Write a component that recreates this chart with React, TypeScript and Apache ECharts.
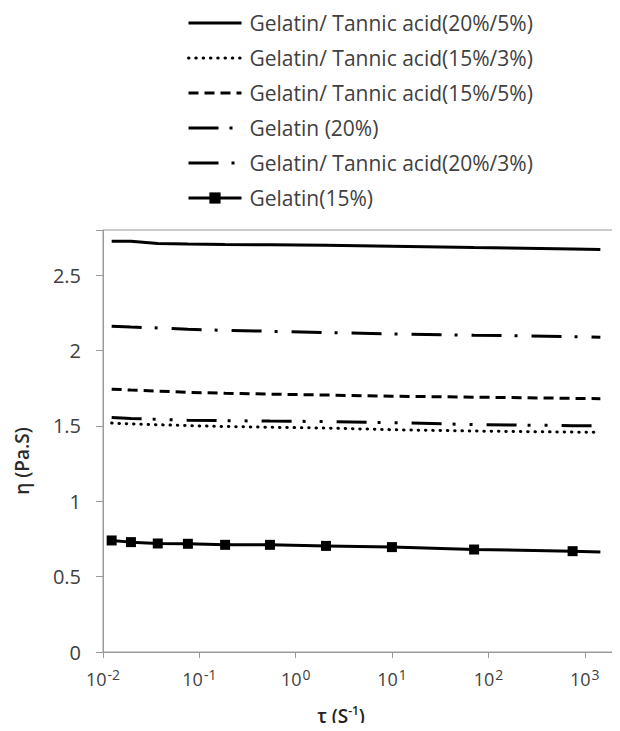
import React, { useEffect, useRef } from "react";
import * as echarts from "echarts";

const shearRates = [0.0123, 0.0195, 0.037, 0.076, 0.185, 0.54, 2.06, 9.96, 71, 747, 1450];

const gtA20_5 = [2.726, 2.725, 2.711, 2.707, 2.704, 2.702, 2.699, 2.693, 2.684, 2.674, 2.671];
const gtA15_3 = [1.519, 1.513, 1.508, 1.502, 1.496, 1.491, 1.486, 1.475, 1.466, 1.459, 1.457];
const gtA15_5 = [1.744, 1.738, 1.731, 1.723, 1.717, 1.711, 1.705, 1.697, 1.691, 1.683, 1.681];
const gel20 = [1.556, 1.55, 1.544, 1.538, 1.535, 1.532, 1.529, 1.522, 1.509, 1.502, 1.5];
const gtA20_3 = [2.161, 2.156, 2.15, 2.141, 2.134, 2.128, 2.12, 2.111, 2.102, 2.092, 2.089];
const gel15 = [0.74, 0.729, 0.72, 0.718, 0.711, 0.711, 0.704, 0.696, 0.68, 0.669, 0.664];

const seriesNames = [
  "Gelatin/ Tannic acid(20%/5%)",
  "Gelatin/ Tannic acid(15%/3%)",
  "Gelatin/ Tannic acid(15%/5%)",
  "Gelatin (20%)",
  "Gelatin/ Tannic acid(20%/3%)",
  "Gelatin(15%)",
];

const yTicks = [0, 0.5, 1, 1.5, 2, 2.5];
const FONT = "'Open Sans', sans-serif";
const TXT = "#404040";

function pairs(vals: number[]) {
  return shearRates.map((x, i) => [x, vals[i]]);
}

export default function App() {
  const ref = useRef<HTMLDivElement>(null);
  useEffect(() => {
    if (!ref.current) return;
    const chart = echarts.init(ref.current, undefined, { renderer: "svg" });
    const base = {
      type: "line" as const,
      showSymbol: false,
      symbol: "none",
      smooth: false,
    };
    const gel15Data: any[] = pairs(gel15).map((p, i) =>
      i === shearRates.length - 1 ? { value: p, symbol: "none" } : p
    );
    chart.setOption({
      animation: false,
      textStyle: { fontFamily: FONT },
      legend: {
        orient: "vertical",
        left: 179,
        top: 4,
        padding: 0,
        itemWidth: 53,
        itemHeight: 14,
        itemGap: 13,
        selectedMode: false,
        lineStyle: { width: 3 },
        textStyle: {
          fontFamily: FONT,
          fontSize: 21,
          color: TXT,
          lineHeight: 22,
          padding: [0, 0, 0, 3],
        },
        data: seriesNames.map((n, i) =>
          i < 5 ? { name: n, itemStyle: { opacity: 0 } } : { name: n }
        ),
      },
      grid: {
        left: 95,
        right: 35,
        top: 222,
        bottom: 79,
        show: true,
        borderColor: "#9a9a9a",
        borderWidth: 1,
      },
      xAxis: {
        type: "log",
        logBase: 10,
        min: 0.01,
        max: 3162,
        axisLine: { show: true, lineStyle: { color: "#9a9a9a", width: 1 } },
        axisTick: { show: true, length: 6, lineStyle: { color: "#9a9a9a" } },
        splitLine: { show: false },
        minorTick: { show: false },
        axisLabel: {
          margin: 15,
          formatter: (v: number) => {
            const e = Math.log10(v);
            const r = Math.round(e);
            if (Math.abs(e - r) > 1e-6) return "";
            return `{a|10}{b|${r}}`;
          },
          rich: {
            a: { fontSize: 18, color: TXT, fontFamily: FONT, lineHeight: 24 },
            b: {
              fontSize: 14,
              color: TXT,
              fontFamily: FONT,
              verticalAlign: "top",
              padding: [0, 0, 0, 1],
            },
          },
        },
      },
      yAxis: {
        type: "value",
        min: 0,
        max: 2.8,
        interval: 0.5,
        axisLine: { show: true, lineStyle: { color: "#9a9a9a", width: 1 } },
        axisTick: { show: true, length: 7, lineStyle: { color: "#9a9a9a" } },
        splitLine: { show: false },
        axisLabel: {
          margin: 22,
          fontSize: 20,
          color: TXT,
          fontFamily: FONT,
          formatter: (v: number) =>
            yTicks.some((t) => Math.abs(t - v) < 1e-9) ? String(v) : "",
        },
      },
      graphic: [
        {
          type: "text",
          x: 14,
          y: 453,
          rotation: Math.PI / 2,
          style: {
            text: "η (Pa.S)",
            fontFamily: FONT,
            fontSize: 19,
            fontWeight: 600,
            fill: "#2a2a2a",
            align: "center",
            verticalAlign: "middle",
          },
        },
        {
          type: "text",
          x: 333,
          y: 708,
          style: {
            text: "{m|τ (S}{s|-1}{m|)}",
            align: "center",
            verticalAlign: "middle",
            rich: {
              m: { fontFamily: FONT, fontSize: 19, fontWeight: 600, fill: "#222", lineHeight: 24 },
              s: { fontFamily: FONT, fontSize: 12, fontWeight: 600, fill: "#222", verticalAlign: "top" },
            },
          },
        },
      ],
      series: [
        {
          ...base,
          name: seriesNames[0],
          data: pairs(gtA20_5),
          lineStyle: { color: "#000", width: 3, type: "solid" },
          itemStyle: { color: "#000" },
        },
        {
          ...base,
          name: seriesNames[1],
          data: pairs(gtA15_3),
          lineStyle: { color: "#000", width: 3, type: [0.5, 6.8], cap: "round" },
          itemStyle: { color: "#000" },
        },
        {
          ...base,
          name: seriesNames[2],
          data: pairs(gtA15_5),
          lineStyle: { color: "#000", width: 3, type: [10, 6] },
          itemStyle: { color: "#000" },
        },
        {
          ...base,
          name: seriesNames[3],
          data: pairs(gel20),
          lineStyle: { color: "#000", width: 3, type: [30, 11, 3, 14, 3, 14] },
          itemStyle: { color: "#000" },
        },
        {
          ...base,
          name: seriesNames[4],
          data: pairs(gtA20_3),
          lineStyle: { color: "#000", width: 3, type: [30, 13, 3, 14] },
          itemStyle: { color: "#000" },
        },
        {
          type: "line",
          name: seriesNames[5],
          data: gel15Data,
          showSymbol: true,
          symbol: "rect",
          symbolSize: 10,
          lineStyle: { color: "#000", width: 3 },
          itemStyle: { color: "#000" },
        },
      ],
    });
    return () => chart.dispose();
  }, []);
  return (
    <div style={{ width: 612, height: 723, overflow: "hidden", marginBottom: -8 }}>
      <div ref={ref} style={{ width: 660, height: 723 }} />
    </div>
  );
}
